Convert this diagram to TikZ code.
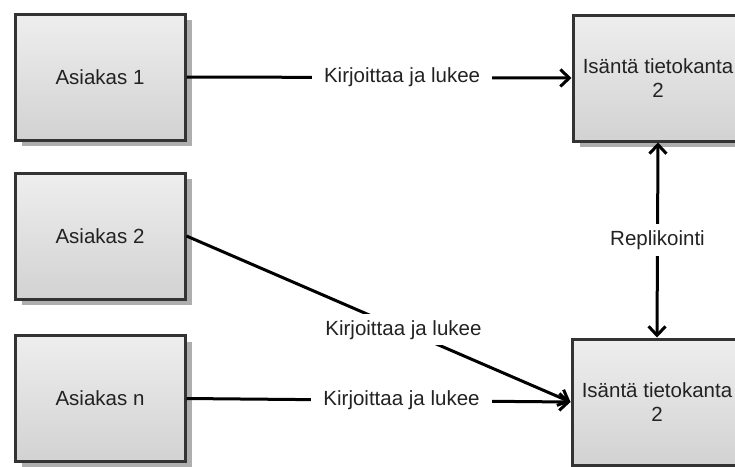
\documentclass[tikz,border=0pt]{standalone}
\usepackage{fontspec}
\setmainfont{Liberation Sans}
\usetikzlibrary{arrows.meta,shadows}
\definecolor{boxline}{HTML}{333333}
\definecolor{boxtop}{HTML}{EEEEEE}
\definecolor{boxbot}{HTML}{D2D2D2}
\definecolor{shade}{HTML}{AEAEAE}
\definecolor{txt}{HTML}{222222}
\tikzset{
  block/.style={draw=boxline, line width=3pt, top color=boxtop, bottom color=boxbot,
    minimum width=170pt, minimum height=126pt, inner sep=0pt, align=center,
    text=txt, font=\fontsize{20.5}{24}\selectfont,
    drop shadow={shadow xshift=7pt, shadow yshift=-6pt, fill=shade, opacity=1}},
  link/.style={line width=3pt, black, >={Straight Barb[length=9pt,width=17pt]}},
  lbl/.style={fill=white, inner xsep=12pt, inner ysep=6pt, text=txt,
    font=\fontsize{20.5}{24}\selectfont}
}
\begin{document}
\begin{tikzpicture}[x=1pt,y=-1pt]
  \clip (0,0) rectangle (735,466);
  \useasboundingbox (0,0) rectangle (735,466);
  % clients
  \node[block] (a1) at (100,77) {Asiakas 1};
  \node[block] (a2) at (100,236) {Asiakas 2};
  \node[block] (an) at (100,398.5) {Asiakas n};
  % master databases
  \node[block] (m1) at (658,78) {Isäntä tietokanta\\2};
  \node[block] (m2) at (657,402) {Isäntä tietokanta\\2};
  % read/write connections
  \draw[link, ->] (a1.east) -- node[lbl, pos=0.56] (l1) {Kirjoittaa ja lukee} (m1.west);
  \draw[link, ->] (a2.east) -- node[lbl, pos=0.565] (l2) {Kirjoittaa ja lukee} (m2.west);
  \draw[link, ->] (an.east) -- node[lbl, pos=0.56] (l3) {Kirjoittaa ja lukee} (m2.west);
  % replication
  \draw[link, <->] (m1.south) -- node[lbl, inner xsep=4pt] (l4) {Replikointi} (m2.north);
\end{tikzpicture}
\end{document}
